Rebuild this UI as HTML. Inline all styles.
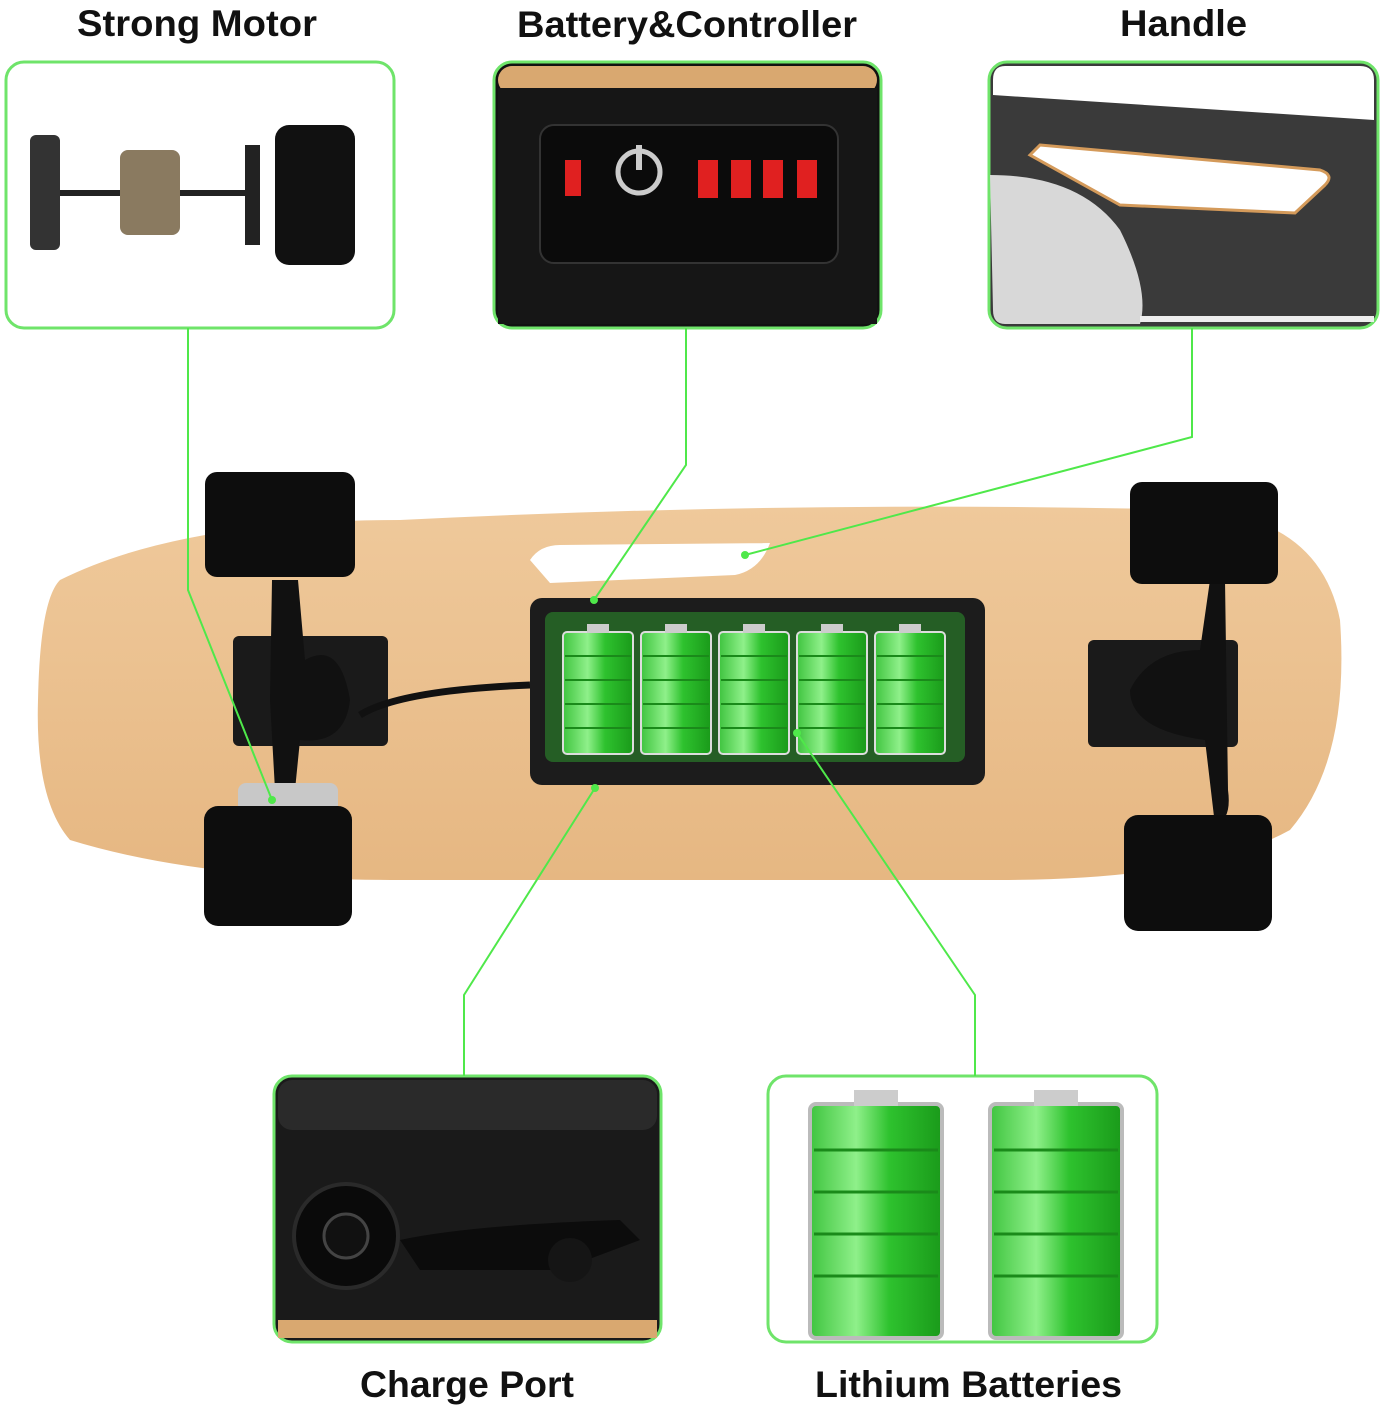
<!DOCTYPE html>
<html><head><style>
html,body{margin:0;padding:0;background:#fff;}
svg{display:block;}
text{font-family:"Liberation Sans",sans-serif;fill:#111;font-weight:bold;}
</style></head><body>
<svg width="1393" height="1412" viewBox="0 0 1393 1412" xmlns="http://www.w3.org/2000/svg">
<defs>
<linearGradient id="wood" x1="0" y1="0" x2="0" y2="1"><stop offset="0" stop-color="#efc99b"/><stop offset="1" stop-color="#e6b782"/></linearGradient>
<linearGradient id="bat" x1="0" y1="0" x2="1" y2="0"><stop offset="0" stop-color="#3fc43f"/><stop offset="0.35" stop-color="#8ff08a"/><stop offset="0.6" stop-color="#2ec22e"/><stop offset="1" stop-color="#1a9a1a"/></linearGradient>
<g id="cell"><rect x="0" y="10" width="70" height="122" rx="4" fill="url(#bat)" stroke="#ddd" stroke-width="2"/><rect x="24" y="2" width="22" height="9" fill="#ccc"/><g stroke="#1a8a1a" stroke-width="2"><line x1="2" y1="34" x2="68" y2="34"/><line x1="2" y1="58" x2="68" y2="58"/><line x1="2" y1="82" x2="68" y2="82"/><line x1="2" y1="106" x2="68" y2="106"/></g></g>
<g id="bigcell"><rect x="0" y="14" width="132" height="234" rx="6" fill="url(#bat)" stroke="#bbb" stroke-width="4"/><rect x="44" y="0" width="44" height="16" fill="#ccc"/><g stroke="#1a8a1a" stroke-width="3"><line x1="4" y1="60" x2="128" y2="60"/><line x1="4" y1="102" x2="128" y2="102"/><line x1="4" y1="144" x2="128" y2="144"/><line x1="4" y1="186" x2="128" y2="186"/></g></g>
</defs>
<rect width="1393" height="1412" fill="#fff"/>
<!-- titles -->
<text x="77" y="36" font-size="37" textLength="240" lengthAdjust="spacingAndGlyphs">Strong Motor</text>
<text x="517" y="37" font-size="37" textLength="340" lengthAdjust="spacingAndGlyphs">Battery&amp;Controller</text>
<text x="1120" y="36" font-size="37" textLength="127" lengthAdjust="spacingAndGlyphs">Handle</text>
<text x="360" y="1397" font-size="37" textLength="214" lengthAdjust="spacingAndGlyphs">Charge Port</text>
<text x="815" y="1397" font-size="37" textLength="307" lengthAdjust="spacingAndGlyphs">Lithium Batteries</text>

<!-- board -->
<path d="M60 580 Q180 520 400 520 Q800 500 1200 510 Q1320 520 1340 620 Q1350 760 1290 830 Q1200 880 1000 880 L400 880 Q200 880 70 840 Q35 800 38 700 Q40 600 60 580Z" fill="url(#wood)"/>
<path d="M530 560 Q540 545 560 545 L770 543 Q760 570 735 575 L550 583 Z" fill="#fff"/>
<!-- left truck -->
<rect x="233" y="636" width="155" height="110" rx="6" fill="#1a1a1a"/>
<path d="M272 580 L298 580 L305 660 Q340 640 350 700 Q345 745 300 740 L295 790 L275 790 L270 700 Z" fill="#111"/>
<rect x="205" y="472" width="150" height="105" rx="12" fill="#0d0d0d"/>
<rect x="238" y="783" width="100" height="30" rx="8" fill="#c8c8c8"/>
<rect x="204" y="806" width="148" height="120" rx="14" fill="#0d0d0d"/>
<path d="M360 715 Q400 690 530 685" stroke="#111" stroke-width="7" fill="none"/>
<!-- right truck -->
<rect x="1088" y="640" width="150" height="107" rx="6" fill="#1a1a1a"/>
<path d="M1210 580 L1225 580 L1228 790 Q1232 820 1215 825 L1205 740 Q1130 730 1130 690 Q1150 650 1200 650 Z" fill="#111"/>
<rect x="1130" y="482" width="148" height="102" rx="12" fill="#0d0d0d"/>
<rect x="1124" y="815" width="148" height="116" rx="14" fill="#0d0d0d"/>
<!-- battery pack -->
<rect x="530" y="598" width="455" height="187" rx="12" fill="#1c1c1c"/>
<rect x="545" y="612" width="420" height="150" rx="8" fill="#2a7a2a" opacity="0.7"/>
<use href="#cell" x="563" y="622"/><use href="#cell" x="641" y="622"/><use href="#cell" x="719" y="622"/><use href="#cell" x="797" y="622"/><use href="#cell" x="875" y="622"/>

<!-- motor box -->
<rect x="6" y="62" width="388" height="266" rx="18" fill="#fff" stroke="#6fe46a" stroke-width="3"/>
<rect x="30" y="135" width="30" height="115" rx="6" fill="#333"/>
<rect x="60" y="190" width="200" height="6" fill="#222"/>
<rect x="120" y="150" width="60" height="85" rx="8" fill="#8a7a60"/>
<rect x="245" y="145" width="15" height="100" fill="#222"/>
<rect x="275" y="125" width="80" height="140" rx="14" fill="#111"/>
<!-- battery&controller box -->
<rect x="494" y="62" width="387" height="266" rx="18" fill="#111" stroke="#6fe46a" stroke-width="3"/>
<rect x="498" y="66" width="379" height="28" rx="14" fill="#d9a870"/>
<rect x="498" y="88" width="379" height="236" fill="#161616"/>
<rect x="540" y="125" width="298" height="138" rx="14" fill="#0b0b0b" stroke="#333" stroke-width="2"/>
<rect x="565" y="160" width="16" height="36" fill="#e02020"/>
<circle cx="639" cy="172" r="21" fill="none" stroke="#ccc" stroke-width="5"/>
<rect x="636" y="145" width="6" height="25" fill="#ccc"/>
<rect x="698" y="160" width="20" height="38" fill="#e02020"/><rect x="731" y="160" width="20" height="38" fill="#e02020"/><rect x="763" y="160" width="20" height="38" fill="#e02020"/><rect x="797" y="160" width="20" height="38" fill="#e02020"/>
<!-- handle box -->
<rect x="989" y="62" width="389" height="266" rx="18" fill="#3a3a3a" stroke="#6fe46a" stroke-width="3"/>
<path d="M993 95 L1374 120 L1374 80 Q1374 66 1360 66 L1005 66 Q993 66 993 80Z" fill="#fff"/>
<path d="M990 175 Q1080 175 1120 230 Q1150 290 1140 324 L1005 324 Q993 324 993 310Z" fill="#d8d8d8"/>
<path d="M1040 145 L1320 170 Q1335 175 1325 185 L1295 213 L1120 205 L1030 155Z" fill="#fff" stroke="#d49a5a" stroke-width="3"/>
<rect x="1140" y="316" width="234" height="6" fill="#eee"/>
<!-- charge port box -->
<rect x="274" y="1076" width="387" height="266" rx="18" fill="#1a1a1a" stroke="#6fe46a" stroke-width="3"/>
<rect x="278" y="1080" width="379" height="50" rx="14" fill="#2a2a2a"/>
<rect x="278" y="1320" width="379" height="18" fill="#d9a870"/>
<circle cx="346" cy="1236" r="52" fill="#0a0a0a" stroke="#2a2a2a" stroke-width="4"/>
<circle cx="346" cy="1236" r="22" fill="#111" stroke="#444" stroke-width="3"/>
<path d="M400 1240 Q470 1225 620 1220 L640 1240 L560 1270 L420 1270Z" fill="#0c0c0c"/>
<circle cx="570" cy="1260" r="22" fill="#151515"/>
<!-- lithium box -->
<rect x="768" y="1076" width="389" height="266" rx="18" fill="#fff" stroke="#6fe46a" stroke-width="3"/>
<use href="#bigcell" x="810" y="1090"/><use href="#bigcell" x="990" y="1090"/>

<!-- connectors -->
<g stroke="#4fe84a" stroke-width="2" fill="none">
<polyline points="188,328 188,590 272,800"/>
<polyline points="686,328 686,465 594,600"/>
<polyline points="1192,328 1192,437 745,555"/>
<polyline points="464,1076 464,995 595,788"/>
<polyline points="975,1076 975,995 797,733"/>
</g>
<g fill="#4fe84a"><circle cx="272" cy="800" r="4"/><circle cx="594" cy="600" r="4"/><circle cx="745" cy="555" r="4"/><circle cx="595" cy="788" r="4"/><circle cx="797" cy="733" r="4"/></g>
</svg>
</body></html>
